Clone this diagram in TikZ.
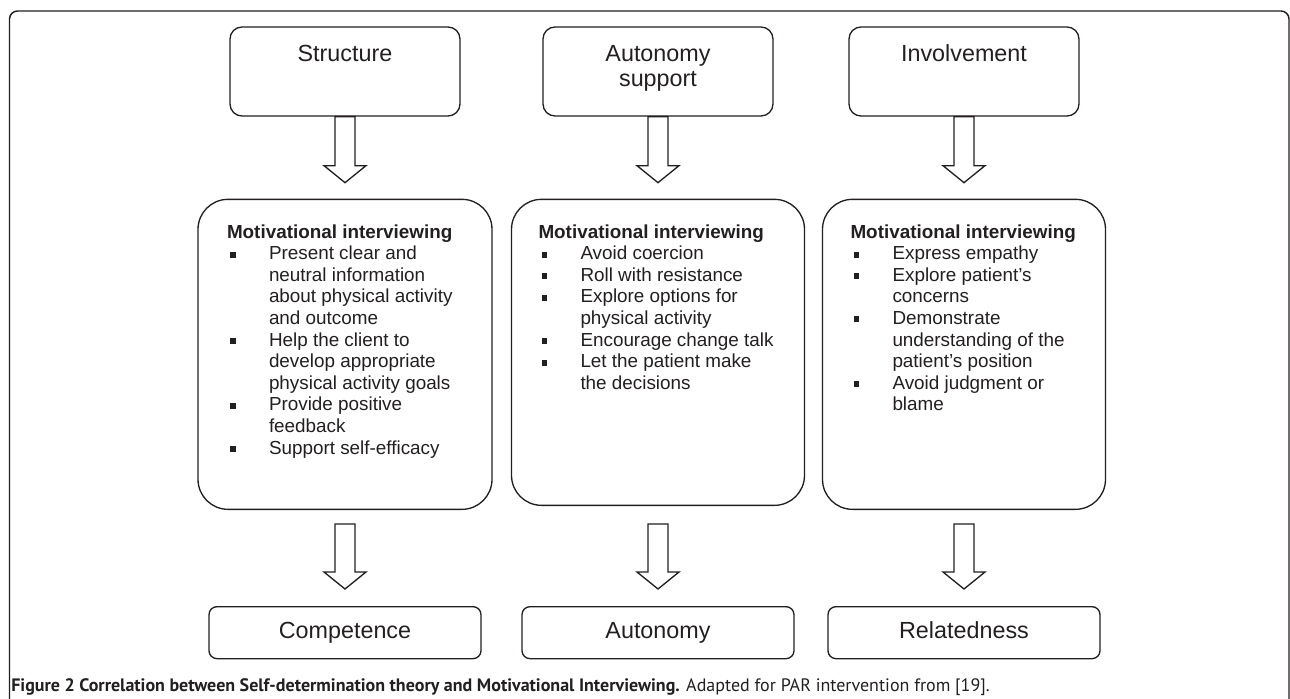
\documentclass[tikz,border=0pt]{standalone}
\usepackage{fontspec}
\setmainfont{Liberation Sans}
\newfontfamily\capfont{PT Sans}
\usetikzlibrary{calc, positioning}
\definecolor{inkline}{RGB}{35,31,32}

% text helpers
\newcommand{\topcontent}[1]{\parbox[c][66.75pt][t]{172.5pt}{\centering\rule{0pt}{25.8pt}#1}}
\newcommand{\micontent}[4]{\parbox[c][#1][t]{#2}{\rule{0pt}{29pt}\hspace*{#3}\begin{tabular}[t]{@{}l@{}l@{}}#4\end{tabular}}}
\newcommand{\mib}{\makebox[31.5pt][l]{\hspace{2.25pt}\rule[0.11em]{4.4pt}{4.4pt}}}
\newcommand{\mihead}{\multicolumn{2}{@{}l@{}}{\bfseries Motivational interviewing}}

% hollow block arrow between two nodes
\newcommand{\hollowarrow}[4]{%
  \draw[hollow] let \p1=($(#1.south)+(0,#3)$), \p2=($(#2.north)+(0,-#4)$) in
    (\x1-7.5pt,\y1) -- (\x1-7.5pt,\y2+12.75pt) -- (\x1-15.75pt,\y2+12.75pt) -- (\x1,\y2)
    -- (\x1+15.75pt,\y2+12.75pt) -- (\x1+7.5pt,\y2+12.75pt) -- (\x1+7.5pt,\y1) -- cycle;}

\begin{document}
\begin{tikzpicture}[x=0.75pt, y=-0.75pt,
    topbox/.style={draw=inkline, line width=1pt, rounded corners=9pt, inner sep=0pt, text=inkline, font=\fontsize{17.5}{18.5}\selectfont},
    mibox/.style={draw=inkline, line width=1pt, rounded corners=22.5pt, inner sep=0pt, text=inkline, font=\fontsize{14.15}{16.2}\selectfont},
    needbox/.style={draw=inkline, line width=1pt, rounded corners=6pt, minimum width=204pt, minimum height=39pt, inner sep=0pt, text height=12.6pt, text depth=3.4pt, text=inkline, font=\fontsize{17.5}{18.5}\selectfont},
    hollow/.style={draw=inkline, line width=1pt, fill=white},
    frame/.style={draw=inkline, line width=1.1pt, rounded corners=6pt}]

\clip (0,0) rectangle (1290,699);

% Outer frame
\draw[frame] (9.5,740) -- (9.5,11) -- (1289,11) -- (1289,740);

% Top row
\node[topbox] (structure) at (345,71.5) {\topcontent{Structure}};
\node[topbox] (autsupport) at (658,71.5) {\topcontent{Autonomy\\support}};
\node[topbox] (involvement) at (964,71.5) {\topcontent{Involvement}};

% Motivational interviewing boxes
\node[mibox, below=61.5pt of structure] (mistructure) {\micontent{232.5pt}{220.5pt}{21.75pt}{%
  \mihead\\
  \mib & Present clear and\\
  & neutral information\\
  & about physical activity\\
  & and outcome\\
  \mib & Help the client to\\
  & develop appropriate\\
  & physical activity goals\\
  \mib & Provide positive\\
  & feedback\\
  \mib & Support self-efficacy}};
\node[mibox, below=61.5pt of autsupport] (miautonomy) {\micontent{229.5pt}{219.75pt}{20.25pt}{%
  \mihead\\
  \mib & Avoid coercion\\
  \mib & Roll with resistance\\
  \mib & Explore options for\\
  & physical activity\\
  \mib & Encourage change talk\\
  \mib & Let the patient make\\
  & the decisions}};
\node[mibox, below=61.5pt of involvement] (miinvolvement) {\micontent{232.5pt}{212.25pt}{21pt}{%
  \mihead\\
  \mib & Express empathy\\
  \mib & Explore patient's\\
  & concerns\\
  \mib & Demonstrate\\
  & understanding of the\\
  & patient's position\\
  \mib & Avoid judgment or\\
  & blame}};

% Basic needs
\node[needbox, below=72pt of mistructure] (competence) {Competence};
\node[needbox, below=75pt of miautonomy] (autonomy) {Autonomy};
\node[needbox, below=72pt of miinvolvement] (relatedness) {Relatedness};

% Arrows
\hollowarrow{structure}{mistructure}{0}{16}
\hollowarrow{autsupport}{miautonomy}{0}{16}
\hollowarrow{involvement}{miinvolvement}{0}{16}
\hollowarrow{mistructure}{competence}{14}{17}
\hollowarrow{miautonomy}{autonomy}{18}{17}
\hollowarrow{miinvolvement}{relatedness}{14}{17}

% Caption
\node[anchor=base west, inner sep=0pt, text=inkline, font=\capfont\fontsize{13.5}{16}\selectfont] (caption) at (11,691)
  {\textbf{Figure 2 Correlation between Self-determination theory and Motivational Interviewing.} Adapted for PAR intervention from [19].};

\end{tikzpicture}
\end{document}
